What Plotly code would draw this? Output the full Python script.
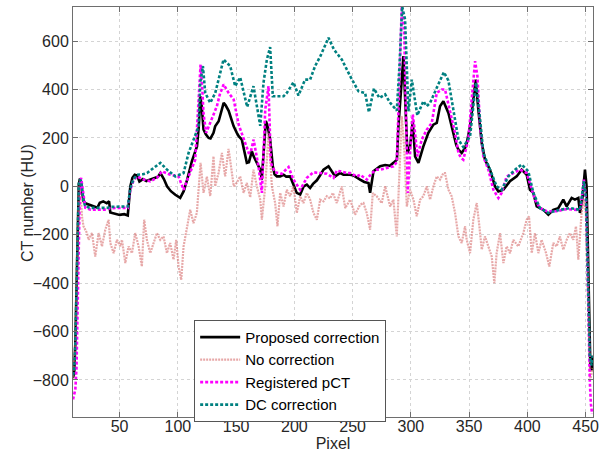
import plotly.graph_objects as go

# ---------------- data ----------------
prop_x = [10, 11, 12, 13, 14, 15, 16, 17, 18, 19, 20.6, 25, 28, 31, 33, 36, 39, 41, 42, 46, 50, 54, 57,
          59.2, 61, 63, 65, 67, 70, 73, 76, 80, 83, 85, 88, 90.7, 94, 97.8, 102, 105, 108, 112, 116.4, 118,
          119.2, 120.5, 122, 124, 126.4, 128, 130.6, 132, 135, 139.3, 141, 143.6, 147.9, 150.6, 152.2, 154.9,
          156.5, 159.2, 161, 163.5, 165, 167.8, 170.7, 172, 174, 175.5, 177, 179.2, 181.5, 183, 185, 187.8,
          190.7, 193, 196.4, 199, 202, 205, 208, 210.7, 213.5, 216, 219.3, 222, 225, 229.3, 233.6, 235, 239.3,
          242.1, 247.9, 250.7, 256.4, 260, 263.6, 265, 267.9, 273.6, 277.9, 282, 285, 288, 289.3, 291.3, 293.6,
          295, 297, 299.3, 301.6, 303.6, 306.5, 310.7, 315, 319.3, 322.2, 325, 327.9, 332.2, 336.5, 339, 340.8,
          343.6, 346.5, 348, 350.8, 353.6, 355.6, 357.9, 360.8, 363.6, 367.9, 372.2, 375.1, 379.4, 385, 390.8,
          395.1, 399.4, 402.2, 405.1, 408, 413.7, 418, 422.2, 426.5, 430.8, 433.7, 438, 440.8, 443.7, 445.1,
          447.4, 449.4, 450.8, 452, 453, 454, 455, 456]
prop_y = [-790, -775, -650, -400, -150, 10, 32, 15, -30, -60, -70, -78, -85, -88, -68, -62, -70, -62, -108,
          -112, -118, -115, -120, 0, 35, 48, 45, 20, 30, 22, 28, 35, 40, 55, 30, 0, -20, -35, -48, -20, 28, 103,
          165, 250, 372, 330, 235, 215, 200, 198, 221, 248, 269, 345, 335, 312, 248, 221, 207, 193, 152, 97, 100,
          145, 124, 97, 69, 28, 150, 270, 250, 193, 83, 50, 41, 41, 48, 40, 41, 10, -27, -34, 0, 7, -7, 10, 25,
          45, 69, 83, 50, 41, 55, 48, 48, 45, 28, 18, 14, -27, 62, 83, 88, 85, 97, 110, 248, 386, 538, 372, 138,
          165, 270, 124, 97, 165, 221, 255, 262, 331, 352, 303, 221, 170, 152, 138, 159, 180, 248, 359, 441, 317,
          179, 110, 69, 0, -21, -14, 21, 41, 69, 48, -14, -27, -83, -97, -117, -97, -90, -55, -83, -48, -55, -48,
          -110, -41, 69, 0, -300, -600, -740, -760, -700]

nocorr_x = [10, 12, 13, 14, 15, 16, 17.7, 19, 22, 23.4, 26.3, 29.1, 32, 34.9, 37.7, 40.6, 42, 44.9, 47.7,
            50.6, 52, 54.9, 57.7, 60.6, 63.4, 66.3, 69.1, 71.1, 73.4, 76.3, 79.1, 82, 84.9, 87.7, 90.6, 93.4,
            96.3, 98.6, 100.6, 102.9, 104.9, 107.7, 110.6, 113.4, 116.3, 119.5, 122, 124.9, 127.8, 130.6, 132,
            134.9, 137.8, 140.6, 143.5, 146.4, 148, 150.6, 153.5, 156.4, 159.2, 162.1, 164.9, 167.8, 170.7,
            172.1, 175, 177.8, 180.7, 183.5, 185.5, 187.8, 190.7, 193.5, 196.4, 199.2, 202.1, 205, 207.8,
            210.7, 213.5, 216.4, 219.3, 222.1, 225, 227.8, 230.7, 233, 236.4, 240.7, 243.6, 247.9, 252.1,
            256.4, 259.3, 262.1, 265, 267.3, 270.7, 275, 277.9, 282.2, 285, 287.9, 290.2, 292.2, 294.2, 296.5,
            299.3, 302.2, 305, 307.9, 310.7, 313.6, 316.5, 319.3, 322.2, 325, 327.9, 329.3, 332.2, 335, 337.9,
            340.8, 343.6, 346.5, 347.9, 350.8, 353.6, 356.5, 358.8, 360.8, 363.6, 366.5, 369.4, 371.6, 373.6,
            376.5, 379.4, 382.2, 385.1, 387.9, 392.2, 396.5, 399.4, 401.4, 403.7, 406.5, 409.4, 412.2, 416,
            418.8, 422.2, 425.1, 427.9, 430.8, 433.7, 436.5, 439.4, 441.7, 443.7, 446.5, 448.5, 450.2, 452,
            454, 456]
nocorr_y = [-800, -650, -400, -150, 0, 20, -124, -165, -193, -221, -193, -290, -193, -248, -179, -138, -234,
            -276, -221, -248, -221, -317, -248, -276, -193, -248, -331, -138, -221, -276, -234, -193, -221,
            -207, -276, -234, -303, -221, -331, -386, -248, -165, -97, -152, -110, 97, -27, 40, -40, 124, 0,
            55, 138, 41, 155, 55, 0, 15, 41, -27, 14, -45, 69, 0, -55, -138, 0, 221, 0, -69, -165, -27, -83,
            -14, -41, 0, -110, -41, -69, -27, -55, -110, -138, -55, -62, -41, -50, -27, -69, 0, -90, -55, -117,
            -76, -69, -110, -179, -28, -41, -69, 0, -83, -55, -207, 55, 290, 165, -83, -14, -55, -124, -55,
            -41, 0, -55, 0, 41, 28, 55, 55, -14, -41, -110, -207, -234, -165, -221, -276, -138, -69, -165, -262,
            -207, -248, -290, -400, -276, -193, -317, -248, -276, -221, -248, -193, -138, -124, -276, -193,
            -276, -221, -276, -331, -234, -248, -207, -262, -221, -193, -221, -165, -303, -110, -55, -110,
            -500, -800, -750]

reg_x = [10, 11, 12, 13, 14, 15, 16, 17, 18, 19, 20.6, 25, 30, 35, 39, 42, 50, 57, 59.2, 62, 64.9, 67,
         70.6, 76.3, 82, 86.3, 90, 93.5, 100.6, 104.9, 109.2, 114.9, 117.8, 119.5, 121, 122, 124.3, 127.8,
         133.5, 136, 139.3, 143.6, 147.9, 152.2, 156.5, 160.8, 162.5, 165, 169.2, 172.1, 175, 177.8, 179.8,
         183.5, 189.2, 195, 199.2, 205, 210.7, 216.4, 222.1, 227.8, 233.6, 236.4, 239.3, 245, 247.9, 253.6,
         256.4, 262.2, 266.4, 270.7, 273.6, 279.3, 285, 287.9, 290.2, 292.2, 294.2, 295.9, 297.3, 299.3,
         301.6, 303.6, 305.6, 309.3, 313.6, 317.9, 322.2, 326.5, 329.3, 333.6, 337.9, 340.8, 343, 345, 346.5,
         349.3, 352.2, 355.1, 357.1, 359.4, 362.2, 366.5, 370.8, 375.1, 377.9, 382.2, 387.9, 393.7, 399.4,
         403.7, 406.5, 410.8, 416.5, 425.1, 433.7, 442.3, 445.7, 448.5, 450.3, 451.5, 452.5, 453.5, 454.5,
         455.5]
reg_y = [-880, -860, -840, -750, -450, -150, 10, 35, 0, -50, -89, -96, -96, -98, -96, -90, -89, -89, -14,
         25, 41, 35, 28, 21, 35, 62, 55, 48, 41, -14, 41, 110, 359, 503, 400, 300, 221, 262, 331, 380, 421,
         386, 359, 255, 193, 138, 140, 193, 83, -27, 317, 414, 97, 58, 52, 80, 28, -14, 35, 58, 55, 52, 35,
         65, 62, 55, 55, 41, 48, 28, 55, 69, 69, 76, 83, 100, 427, 745, 650, 221, -27, 138, 297, 221, 124,
         193, 234, 262, 386, 400, 400, 310, 221, 138, 118, 110, 138, 193, 359, 517, 455, 248, 124, 69, -14,
         -48, -27, 41, 55, 69, 55, -14, -55, -90, -103, -103, -94, -97, -90, 28, -55, -300, -600, -800, -900,
         -940]

dc_x = [10, 11, 12, 13, 14, 15, 16, 17, 18, 19, 20.6, 25, 30, 35, 39, 42, 50, 57, 59.2, 62, 64.9, 70,
        73.5, 79.2, 85, 90.7, 97.8, 104.9, 109.2, 113.5, 117.8, 119.2, 121.5, 123.5, 127.8, 132.1, 139.2,
        144.9, 149.2, 153.5, 159.5, 164.9, 170.7, 173.5, 176.4, 179.2, 181.5, 187.8, 190.7, 193.5, 199.2,
        203.5, 209.2, 213.5, 217.8, 222.5, 229.3, 234, 240.7, 247.9, 255, 260.7, 264, 268.3, 273, 277.9,
        282.2, 287.9, 290.2, 292.5, 295, 297.9, 300.8, 305.5, 310.7, 313.6, 316.5, 322.2, 328.3, 332.2,
        336.5, 340.8, 345, 350.8, 354.2, 355.9, 359.4, 362.2, 367.9, 373.6, 377.9, 383.7, 389.4, 395.1,
        400.8, 405.1, 410.8, 418, 428, 436.5, 445.1, 448.5, 450.3, 451.5, 452.5, 453.5, 455, 456]
dc_y = [-780, -760, -650, -400, -130, 10, 28, 20, -20, -60, -83, -89, -89, -89, -89, -85, -83, -83, -7, 30,
        48, 50, 55, 76, 97, 69, 41, 55, 138, 193, 248, 428, 497, 386, 345, 386, 524, 497, 414, 450, 328,
        414, 250, 428, 524, 575, 372, 372, 372, 386, 430, 375, 441, 441, 497, 540, 614, 565, 524, 455, 393,
        386, 306, 404, 365, 380, 345, 313, 497, 743, 690, 310, 441, 293, 352, 331, 345, 407, 472, 437, 317,
        193, 162, 207, 359, 428, 276, 138, 69, 0, -14, 41, 69, 90, 62, -27, -90, -110, -97, -90, -97, 21,
        -50, -300, -550, -700, -740, -700]

names = ["Proposed correction", "No correction", "Registered pCT", "DC correction"]
x_ticks = [50, 100, 150, 200, 250, 300, 350, 400, 450]
y_ticks = [-800, -600, -400, -200, 0, 200, 400, 600]
x_title = "Pixel"
y_title = "CT number (HU)"

FONT = "Liberation Sans, Arial, sans-serif"

fig = go.Figure()
fig.add_trace(go.Scatter(x=prop_x, y=prop_y, name=names[0], mode="lines",
                         line=dict(color="black", width=2.6)))
fig.add_trace(go.Scatter(x=nocorr_x, y=nocorr_y, name=names[1], mode="lines",
                         line=dict(color="rgba(215,110,110,0.6)", width=2.2, dash="2px,1px")))
fig.add_trace(go.Scatter(x=reg_x, y=reg_y, name=names[2], mode="lines",
                         line=dict(color="#ff00ff", width=2.6, dash="3px,2px")))
fig.add_trace(go.Scatter(x=dc_x, y=dc_y, name=names[3], mode="lines",
                         line=dict(color="#008080", width=2.6, dash="3px,2px")))

axis_common = dict(showline=True, mirror="ticks", linecolor="#6e6e6e", linewidth=1,
                   ticks="inside", ticklen=5, tickcolor="#6e6e6e",
                   showgrid=True, gridcolor="#d4d4d4", griddash="dot", gridwidth=1,
                   zeroline=False, tickfont=dict(family=FONT, size=16, color="#262626"),
                   automargin=False)

fig.update_layout(
    width=609, height=459,
    margin=dict(l=73, r=16, t=7, b=42),
    paper_bgcolor="white", plot_bgcolor="white",
    font=dict(family=FONT, size=16, color="#262626"),
    showlegend=True,
    legend=dict(x=0.233, y=0.237, xanchor="left", yanchor="top",
                bgcolor="white", bordercolor="#555555", borderwidth=1,
                font=dict(family=FONT, size=15, color="#000000"),
                tracegroupgap=0, itemwidth=40),
    xaxis=dict(range=[10, 456.3], tickvals=x_ticks, ticklabelstandoff=-5,
               title=dict(text=x_title, standoff=0, font=dict(family=FONT, size=16)),
               **axis_common),
    yaxis=dict(range=[-953, 741], tickvals=y_ticks, **axis_common),
    annotations=[dict(text=y_title, textangle=-90, xref="paper", yref="paper",
                      x=-0.0865, y=0.522, xanchor="center", yanchor="middle",
                      showarrow=False, font=dict(family=FONT, size=16, color="#262626"))],
)

fig.write_html("out.html", config={"displayModeBar": False},
               post_script="document.body.style.margin='0px';document.body.style.padding='0px';")
